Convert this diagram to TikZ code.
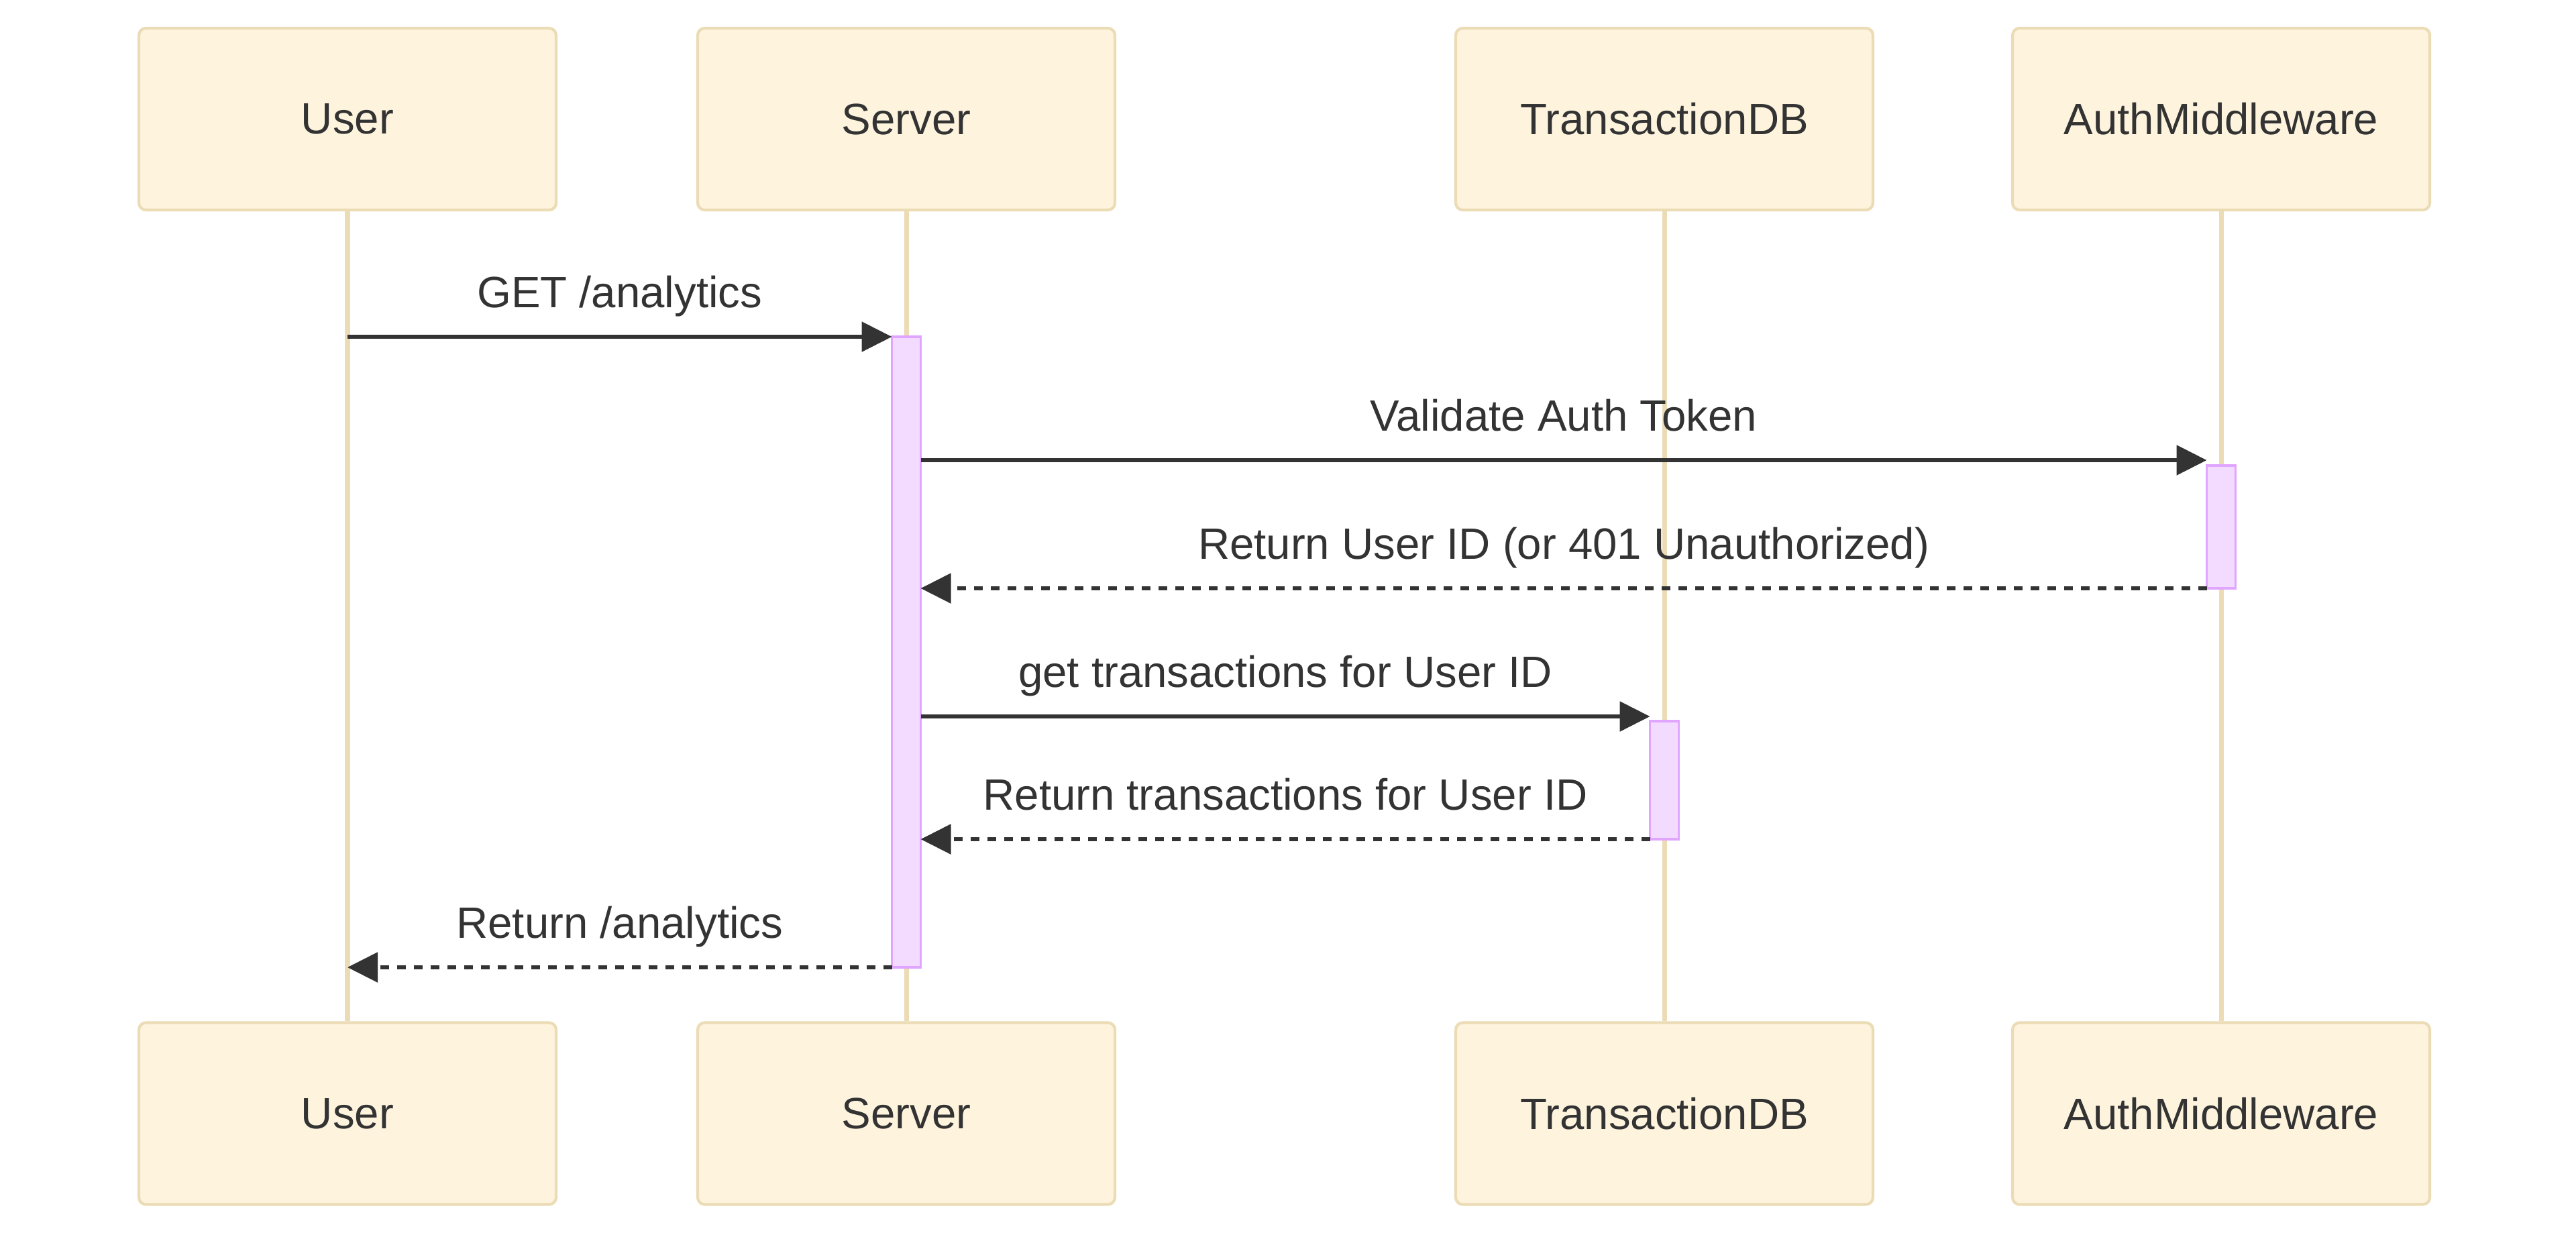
\documentclass[tikz,border=0pt]{standalone}
\usepackage{fontspec}
\setmainfont{Liberation Sans}
\usepackage{tikz}
\usetikzlibrary{arrows.meta, positioning, backgrounds}
\definecolor{ink}{HTML}{333333}
\definecolor{sand}{HTML}{FEF4DE}
\definecolor{sandline}{HTML}{EBDCB6}
\definecolor{lilac}{HTML}{F3DAFF}
\definecolor{lilacline}{HTML}{E0A6FF}
\tikzset{
  actor/.style={rectangle, rounded corners=3pt, draw=sandline, line width=1.2pt, fill=sand, text=ink,
    font=\fontsize{18.6}{22}\selectfont, minimum width=6.22cm, minimum height=2.71cm,
    align=center, inner sep=0pt},
  act/.style={rectangle, draw=lilacline, line width=1.1pt, fill=lilac,
    minimum width=0.43cm, inner sep=0pt, outer sep=0pt},
  life/.style={draw=sandline, line width=2pt},
  ar/.style={-{Triangle[length=0.45cm, width=0.44cm]}, draw=ink, line width=1.6pt},
  ar/ret/.style={-{Triangle[length=0.45cm, width=0.44cm]}, draw=ink, line width=1.6pt,
    dash pattern=on 0.125cm off 0.125cm},
  lb/.style={font=\fontsize{18.6}{22}\selectfont, text=ink, anchor=base, yshift=0.44cm, inner sep=0pt},
}

\begin{document}
\begin{tikzpicture}

\useasboundingbox (0,0) rectangle (38.4,-18.46);

\node[actor] (UsrT) at (5.18,-1.775)  {User};
\node[actor] (SrvT) at (13.51,-1.775) {Server};
\node[actor] (TdbT) at (24.81,-1.775) {TransactionDB};
\node[actor] (AutT) at (33.11,-1.775) {AuthMiddleware};

\node[actor] (UsrB) at (5.18,-16.6)  {User};
\node[actor] (SrvB) at (13.51,-16.6) {Server};
\node[actor] (TdbB) at (24.81,-16.6) {TransactionDB};
\node[actor] (AutB) at (33.11,-16.6) {AuthMiddleware};

\node[act, minimum height=9.40cm] (ActS) at (13.51,-9.72) {};
\node[act, minimum height=1.83cm] (ActA) at (33.11,-7.855) {};
\node[act, minimum height=1.76cm] (ActT) at (24.81,-11.63) {};

\begin{scope}[on background layer]
  \draw[life] (UsrT.south) -- (UsrB.north);
  \draw[life] (SrvT.south) -- (SrvB.north);
  \draw[life] (TdbT.south) -- (TdbB.north);
  \draw[life] (AutT.south) -- (AutB.north);
\end{scope}

\coordinate (M1) at (0,-5.02);
\coordinate (M2) at (0,-6.86);
\coordinate (M3) at (0,-8.77);
\coordinate (M4) at (0,-10.68);
\coordinate (M5) at (0,-12.51);
\coordinate (M6) at (0,-14.42);

\draw[ar] (UsrT |- M1) -- node[lb]{GET /analytics} (ActS.west |- M1);
\draw[ar] (ActS.east |- M2) -- node[lb]{Validate Auth Token} (ActA.west |- M2);
\draw[ar/ret] (ActA.west |- M3) -- node[lb]{Return User ID (or 401 Unauthorized)} (ActS.east |- M3);
\draw[ar] (ActS.east |- M4) -- node[lb]{get transactions for User ID} (ActT.west |- M4);
\draw[ar/ret] (ActT.west |- M5) -- node[lb]{Return transactions for User ID} (ActS.east |- M5);
\draw[ar/ret] (ActS.west |- M6) -- node[lb]{Return /analytics} (UsrT |- M6);

\end{tikzpicture}
\end{document}
